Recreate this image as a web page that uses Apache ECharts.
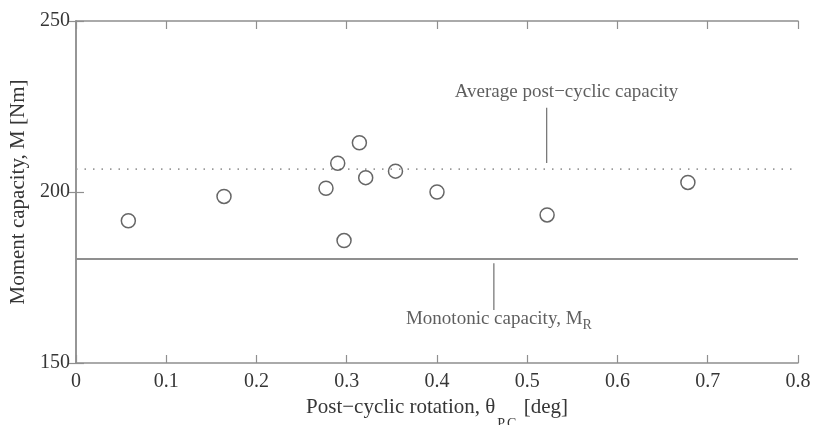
<!DOCTYPE html>
<html>
<head>
<meta charset="utf-8">
<script src="https://cdn.jsdelivr.net/npm/echarts@6/dist/echarts.min.js"></script>
<style>html,body{margin:0;padding:0;background:#fff;overflow:hidden}#c{width:813px;height:425px}</style>
</head>
<body>
<div id="c"></div>
<script>
const rotation = [0.058, 0.164, 0.277, 0.290, 0.297, 0.314, 0.321, 0.354, 0.400, 0.522, 0.678];
const moment   = [191.6, 198.7, 201.1, 208.4, 185.8, 214.4, 204.2, 206.1, 200.0, 193.3, 202.8];
const averageCapacity = 206.7;
const monotonicCapacity = 180.4;
const xRange = [0, 0.8];
const yRange = [150, 250];
const xTickLabels = ['0', '0.1', '0.2', '0.3', '0.4', '0.5', '0.6', '0.7', '0.8'];
const yTickLabels = ['150', '200', '250'];
// annotation anchors in data coordinates
const avgLabelAt = [0.5435, 229.3];
const avgLeader = [[0.5215, 224.6], [0.5215, 208.5]];
const monoLabelAt = [0.3656, 163.0];
const monoLeader = [[0.463, 179.2], [0.463, 165.5]];

const FONT = '"Liberation Serif", "DejaVu Serif", serif';
const TXT = '#363636';
const LINE = '#8f8f8f';

const chart = echarts.init(document.getElementById('c'));
const axisCommon = {
  axisLine: { show: true, lineStyle: { color: LINE, width: 1.5 } },
  axisTick: { show: true, inside: true, length: 8, lineStyle: { color: LINE, width: 1.2 } },
  splitLine: { show: false },
};
chart.setOption({
  animation: false,
  backgroundColor: '#fff',
  grid: { left: 76, right: 15, top: 21, bottom: 62, containLabel: false, outerBoundsMode: 'none' },
  xAxis: [
    Object.assign({}, axisCommon, {
      type: 'value', min: xRange[0], max: xRange[1], interval: 0.1, position: 'bottom',
      axisLabel: { color: TXT, fontFamily: FONT, fontSize: 20, margin: 9,
        formatter: (v) => xTickLabels[Math.round(v * 10)] },
      name: 'Post\u2212cyclic rotation, \u03b8{sub|P,C} [deg]',
      nameLocation: 'middle', nameGap: 15,
      nameTextStyle: { color: TXT, fontFamily: FONT, fontSize: 21,
        rich: { sub: { fontFamily: FONT, fontSize: 14, color: TXT, padding: [33, 2, 0, 2] } } }
    }),
    Object.assign({}, axisCommon, {
      type: 'value', min: xRange[0], max: xRange[1], interval: 0.1, position: 'top',
      axisLabel: { show: false }
    })
  ],
  yAxis: [
    Object.assign({}, axisCommon, {
      type: 'value', min: yRange[0], max: yRange[1], interval: 50, position: 'left',
      axisLabel: { color: TXT, fontFamily: FONT, fontSize: 20, margin: 6,
        formatter: (v) => yTickLabels[Math.round((v - 150) / 50)] },
      name: 'Moment capacity, M [Nm]', nameLocation: 'middle', nameGap: 33, nameRotate: 90,
      nameTextStyle: { color: TXT, fontFamily: FONT, fontSize: 21 }
    }),
    Object.assign({}, axisCommon, {
      type: 'value', min: yRange[0], max: yRange[1], interval: 50, position: 'right',
      axisLabel: { show: false }
    })
  ],
  series: [
    {
      type: 'line', data: [[xRange[0], averageCapacity], [xRange[1], averageCapacity]],
      symbol: 'none', silent: true,
      lineStyle: { color: '#9a9a9a', width: 1.6, type: [1.5, 7] }
    },
    {
      type: 'line', data: [[xRange[0], monotonicCapacity], [xRange[1], monotonicCapacity]],
      symbol: 'none', silent: true,
      lineStyle: { color: '#8f8f8f', width: 2 }
    },
    {
      type: 'line', data: avgLeader, symbol: 'none', silent: true,
      lineStyle: { color: '#7a7a7a', width: 1.3 }
    },
    {
      type: 'line', data: monoLeader, symbol: 'none', silent: true,
      lineStyle: { color: '#7a7a7a', width: 1.3 }
    },
    {
      type: 'scatter', data: rotation.map((x, i) => [x, moment[i]]),
      symbol: 'circle', symbolSize: 14,
      itemStyle: { color: 'rgba(255,255,255,0)', borderColor: '#404040', borderWidth: 1.5 },
      z: 5
    },
    {
      type: 'scatter', data: [avgLabelAt], symbolSize: 0, silent: true,
      label: { show: true, position: 'inside', color: TXT, fontFamily: FONT, fontSize: 19,
        formatter: 'Average post\u2212cyclic capacity' }
    },
    {
      type: 'scatter', data: [monoLabelAt], symbolSize: 0, silent: true,
      label: { show: true, position: 'right', distance: 0, color: TXT, fontFamily: FONT, fontSize: 19,
        formatter: 'Monotonic capacity, M{sub|R}',
        rich: { sub: { fontFamily: FONT, fontSize: 14, color: TXT, padding: [14, 0, 0, 0] } } }
    }
  ]
});
</script>
</body>
</html>
